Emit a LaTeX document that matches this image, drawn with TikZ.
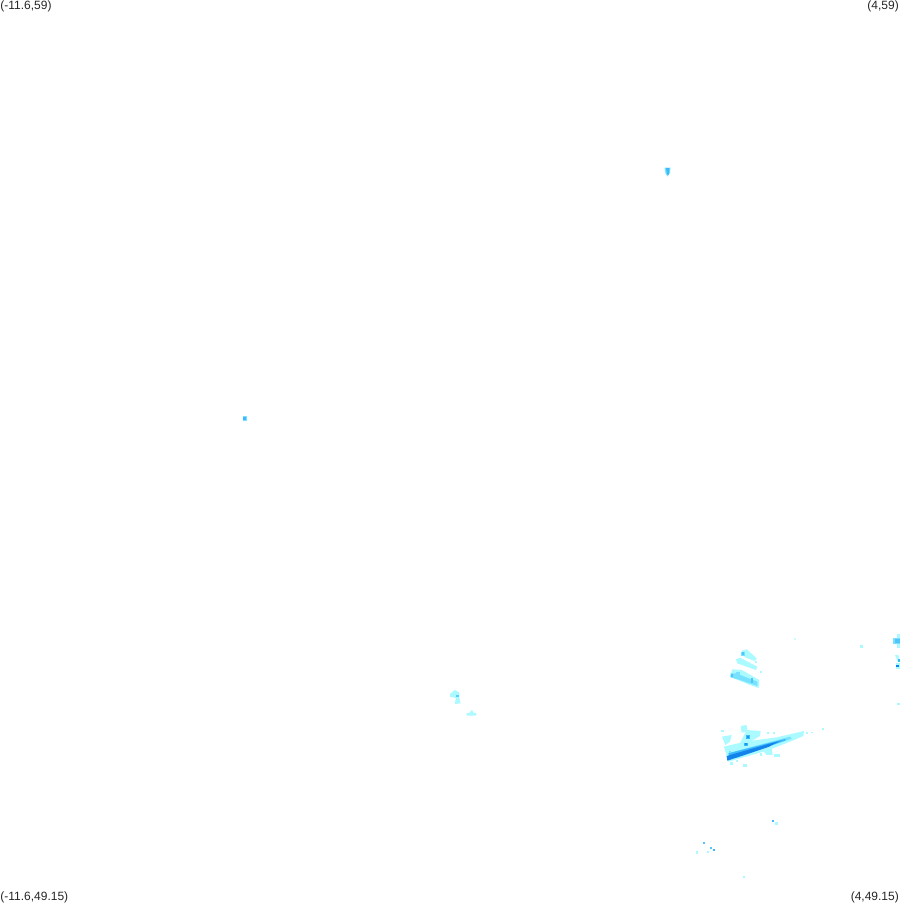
\documentclass[tikz,border=0pt]{standalone}
\usepackage{fontspec}
\setmainfont{Liberation Sans}
\definecolor{pale}{RGB}{170,250,255}
\definecolor{light}{RGB}{120,225,255}
\definecolor{mid}{RGB}{60,185,250}
\definecolor{deep}{RGB}{20,130,235}
\tikzset{
  corner/.style={inner sep=0pt,font=\fontsize{12}{12.5}\selectfont,text=black!85}
}
\begin{document}
\begin{tikzpicture}[x=1pt,y=-1pt]
\useasboundingbox (0,0) rectangle (900,903);
\fill[white] (0,0) rectangle (900,903);
\node[corner,anchor=north west] (tl) at (0.2,0.2) {(-11.6,59)};
\node[corner,anchor=north east] (tr) at (899,0.2) {(4,59)};
\node[corner,anchor=south west] (bl) at (0.2,902.8) {(-11.6,49.15)};
\node[corner,anchor=south east] (br) at (899,902.8) {(4,49.15)};
% isolated specks
\fill[light] (664.5,167.5) -- (670.5,167.5) -- (670,173) -- (667.5,176.5) -- (665.5,173.5) -- cycle;
\fill[mid] (666,168) -- (669.5,168) -- (668.8,174.5) -- (667,174.5) -- cycle;
\fill[light] (242.5,416) rectangle (246.5,420.5);
\fill[mid] (243,417) rectangle (245.5,419.5);
% main cluster, zoomed coordinates
\begin{scope}[shift={(700,630)},x=0.3333pt,y=-0.3333pt]
  % upper patch
  \fill[pale] (125,62) -- (140,58) -- (170,85) -- (165,93) -- (135,82) -- cycle;
  \fill[pale] (108,88) -- (120,83) -- (172,110) -- (168,120) -- (112,100) -- cycle;
  \fill[pale] (97,118) -- (125,120) -- (178,150) -- (176,174) -- (150,165) -- (90,140) -- cycle;
  \fill[pale] (165,92) rectangle (172,100);
  \fill[pale] (180,122) rectangle (186,128);
  \fill[pale] (282,24) rectangle (288,30);
  \fill[light] (123,65) rectangle (135,78);
  \fill[mid!70!light] (125,66) rectangle (133,74);
  \fill[light] (92,130) -- (108,130) -- (172,155) -- (172,168) -- (120,150) -- (92,142) -- cycle;
  \fill[light] (108,125) rectangle (120,135);
  \fill[mid!70!light] (152,145) rectangle (160,158);
  \fill[mid!70!light] (92,132) rectangle (100,140);
  % lower wedge
  \fill[pale] (72,350) -- (135,335) -- (230,322) -- (312,303) -- (310,318) -- (270,335) -- (200,362) -- (120,385) -- (85,395) -- cycle;
  \fill[pale] (66,320) -- (95,315) -- (90,335) -- (76,345) -- cycle;
  \fill[pale] (122,288) -- (140,285) -- (142,305) -- (125,308) -- cycle;
  \fill[pale] (140,300) -- (182,303) -- (180,318) -- (135,345) -- (120,340) -- cycle;
  \fill[pale] (185,358) -- (215,352) -- (218,375) -- (200,375) -- cycle;
  \fill[pale] (222,372) rectangle (240,381);
  \fill[pale] (62,300) rectangle (72,306);
  \fill[pale] (200,305) rectangle (207,312);
  \fill[pale] (218,307) rectangle (225,313);
  \fill[pale] (180,370) rectangle (186,377);
  \fill[pale] (318,306) rectangle (324,312);
  \fill[pale] (333,305) rectangle (340,310);
  \fill[pale] (366,294) rectangle (372,300);
  \fill[pale] (90,397) rectangle (98,405);
  \fill[pale] (108,390) rectangle (115,396);
  \fill[pale] (130,402) rectangle (140,412);
  \fill[light] (90,368) -- (270,320) -- (275,326) -- (110,384) -- cycle;
  \fill[mid] (85,370) -- (255,327) -- (258,331) -- (90,387) -- cycle;
  \fill[deep] (80,378) -- (205,342) -- (240,333) -- (205,351) -- (82,392) -- cycle;
  \fill[mid] (137,316) rectangle (149,327);
  \fill[mid] (133,338) rectangle (144,348);
  \fill[deep!70!mid] (140,319) rectangle (147,325);
  \fill[deep!70!mid] (136,340) rectangle (142,346);
  \fill[light] (86,362) rectangle (94,370);
\end{scope}
% right edge
\begin{scope}[shift={(850,620)},x=0.3333pt,y=-0.3333pt]
  \fill[pale] (30,76) rectangle (39,84);
  \fill[pale] (142,42) rectangle (150,84);
  \fill[light] (130,54) rectangle (150,72);
  \fill[mid!70!light] (136,58) rectangle (150,70);
  \fill[pale] (135,105) -- (145,105) -- (150,125) -- (143,125) -- cycle;
  \fill[mid] (144,117) rectangle (150,126);
  \fill[pale] (138,130) rectangle (150,147);
  \fill[deep] (138,134) rectangle (148,142);
  \fill[pale] (141,249) rectangle (150,256);
\end{scope}
% middle patch
\begin{scope}[shift={(440,680)},x=0.3333pt,y=-0.3333pt]
  \fill[pale] (30,42) -- (45,30) -- (58,38) -- (58,55) -- (62,70) -- (45,72) -- (46,62) -- (48,54) -- (30,50) -- cycle;
  \fill[mid!70!pale] (48,44) rectangle (57,52);
  \fill[pale] (80,100) -- (90,98) -- (93,91) -- (97,91) -- (100,98) -- (108,99) -- (108,107) -- (80,107) -- cycle;
\end{scope}
% lower specks
\begin{scope}[shift={(690,810)},x=0.3333pt,y=-0.3333pt]
  \fill[mid!80!pale] (39,96) rectangle (45,102);
  \fill[mid!80!pale] (60,111) rectangle (66,117);
  \fill[mid] (69,117) rectangle (75,123);
  \fill[pale] (18,123) rectangle (24,132);
  \fill[pale] (51,123) rectangle (57,129);
  \fill[pale] (159,198) rectangle (165,204);
  \fill[mid] (246,30) rectangle (252,36);
  \fill[pale] (255,36) rectangle (264,45);
\end{scope}
\fill[pale!60] (794,638) rectangle (796,640);
\end{tikzpicture}
\end{document}
